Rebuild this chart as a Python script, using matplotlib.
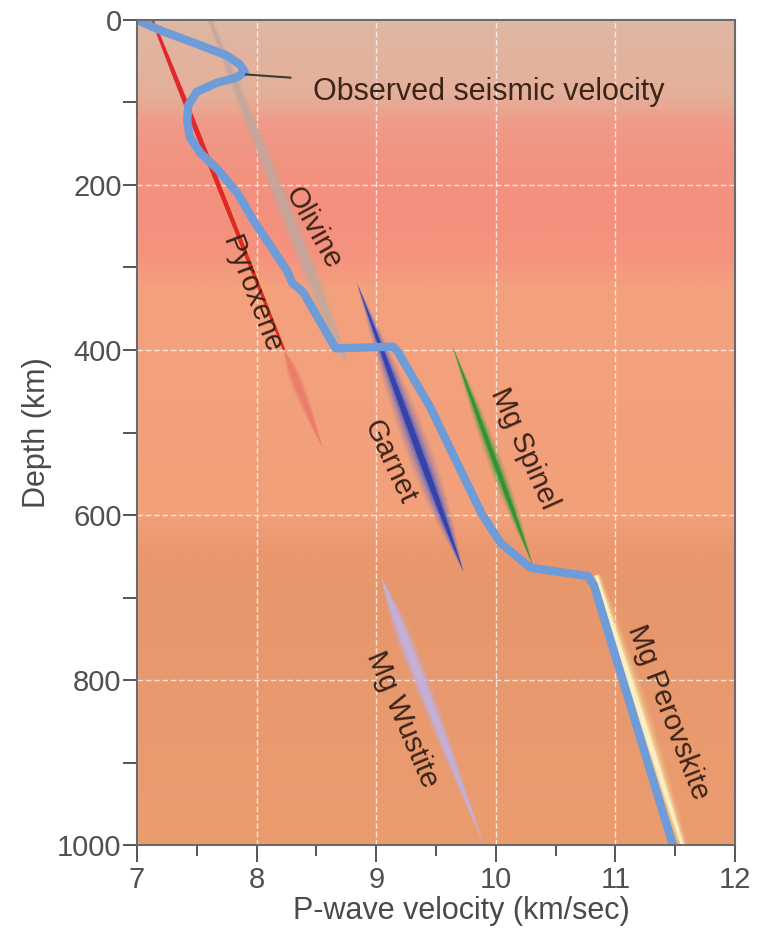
import matplotlib
matplotlib.use("Agg")
import matplotlib.pyplot as plt
import numpy as np
from matplotlib.colors import LinearSegmentedColormap
from matplotlib.patches import Polygon

plt.rcParams['font.family'] = ['Liberation Sans', 'DejaVu Sans']

# observed seismic P-wave velocity profile (km/s, depth km)
obs_velocity = [7.00, 7.22, 7.50, 7.75, 7.86, 7.90, 7.83, 7.67, 7.50, 7.43,
                7.42, 7.44, 7.53, 7.68, 7.84, 7.97, 8.25, 8.30, 8.39, 8.66,
                9.14, 9.18, 9.45, 9.88, 10.04, 10.29, 10.77, 10.82, 11.48]
obs_depth = [0, 14, 29, 43, 54, 63, 70, 76, 87, 103,
             121, 142, 161, 182, 210, 242, 303, 319, 330, 398,
             396, 402, 469, 598, 634, 664, 674, 685, 1000]

# mineral velocity bands: start / end (velocity, depth)
minerals = ["Pyroxene", "Olivine", "Garnet", "Mg Spinel", "Mg Wustite", "Mg Perovskite"]
band_v0 = [7.13, 7.61, 8.84, 9.64, 9.04, 10.84]
band_d0 = [0, 0, 319, 396, 675, 673]
band_v1 = [8.23, 8.74, 9.73, 10.31, 9.90, 11.56]
band_d1 = [400, 412, 669, 661, 1000, 1000]

# faded extension of the pyroxene band
pyx_tail_v = [8.23, 8.55]
pyx_tail_d = [400, 518]

# label positions (velocity, depth) and angle
label_v = [7.96, 8.47, 9.11, 10.24, 9.22, 11.44]
label_d = [333, 252, 536, 519, 848, 839]
label_rot = [-69, -61, -65, -66, -67, -69]

# background colour by depth
bg_depth = [0, 90, 125, 200, 285, 330, 600, 650, 700, 1000]
bg_colors = ['#dfb7a2', '#e4b09a', '#f09a88', '#f4907e', '#f4937e',
             '#f4a27e', '#f2a07a', '#ea976e', '#e6976c', '#eb9d70']

fig = plt.figure(figsize=(7.66, 9.30), dpi=100)
ax = fig.add_axes([137 / 766, 85 / 930, 598 / 766, 825 / 930])
ax.set_xlim(7, 12)
ax.set_ylim(1000, 0)

stops = [d / 1000 for d in bg_depth]
cmap = LinearSegmentedColormap.from_list('mantle', list(zip(stops, bg_colors)))
grad = np.linspace(0, 1, 500).reshape(-1, 1)
ax.imshow(grad, cmap=cmap, extent=[7, 12, 1000, 0], aspect='auto', zorder=0)


def spindle(v0, d0, v1, d1, width, color, peak=0.5, alpha=1.0, zorder=3, tip=0.0):
    p0 = ax.transData.transform((v0, d0))
    p1 = ax.transData.transform((v1, d1))
    vec = p1 - p0
    n = np.array([-vec[1], vec[0]]) / np.hypot(*vec)
    t = np.linspace(0, 1, 80)
    shape = np.where(t < peak, np.sin(np.pi / 2 * t / peak),
                     np.sin(np.pi / 2 * (1 - t) / (1 - peak)))
    shape = tip + (1 - tip) * shape
    half = width / 2 * shape
    centre = p0 + np.outer(t, vec)
    pts = np.vstack([centre + np.outer(half, n), (centre - np.outer(half, n))[::-1]])
    pts = ax.transData.inverted().transform(pts)
    ax.add_patch(Polygon(pts, closed=True, facecolor=color, edgecolor='none',
                         alpha=alpha, zorder=zorder))


def soft_band(i, width, color, core=None, peak=0.5, tip=0.0, gain=1.0):
    args = (band_v0[i], band_d0[i], band_v1[i], band_d1[i])
    for f, a in [(1.8, 0.12), (1.4, 0.2), (1.0, 0.35), (0.7, 0.6)]:
        spindle(*args, width * f, color, peak=peak, alpha=min(1, a * gain), tip=tip)
    if core:
        spindle(*args, width * 0.45, core, peak=peak, alpha=0.85, tip=tip)


# olivine (faded grey-beige)
soft_band(1, 10, '#c2a89e', peak=0.7, tip=0.3, gain=1.3)
# pyroxene faded tail, then bright red line
spindle(pyx_tail_v[0], pyx_tail_d[0], pyx_tail_v[1], pyx_tail_d[1], 12, '#ea7468',
        peak=0.3, alpha=0.35)
spindle(pyx_tail_v[0], pyx_tail_d[0], pyx_tail_v[1], pyx_tail_d[1], 7, '#e86a62',
        peak=0.3, alpha=0.5)
spindle(band_v0[0], band_d0[0], band_v1[0], band_d1[0], 7, '#f0c040',
        peak=0.75, alpha=0.35, tip=0.4)
spindle(band_v0[0], band_d0[0], band_v1[0], band_d1[0], 5, '#e2202a',
        peak=0.3, alpha=0.95, tip=0.5)
# garnet
soft_band(2, 14, '#5a62c4', core='#2a3ca8', peak=0.6)
# spinel
soft_band(3, 8, '#3a9e3a', core='#2e8e30', peak=0.55)
# wustite
soft_band(4, 10, '#c4b0dc', peak=0.25, gain=1.5)
# perovskite
soft_band(5, 11, '#f6e2a0', core='#fbf4d0', peak=0.5, tip=0.5)

ax.plot(obs_velocity, obs_depth, color='#6e9cd8', linewidth=6,
        solid_joinstyle='round', solid_capstyle='round', zorder=5)

ax.annotate('Observed seismic velocity', xy=(7.91, 66), xytext=(8.47, 87),
            fontsize=22, color='#3c2418', va='center', ha='left',
            arrowprops=dict(arrowstyle='-', color='#3a3a3a', lw=1.5,
                            shrinkA=14, shrinkB=0), zorder=6)

for name, lv, ld, rot in zip(minerals, label_v, label_d, label_rot):
    ax.text(lv, ld, name, fontsize=21, color='#3c2418', rotation=rot,
            rotation_mode='anchor', ha='center', va='center', zorder=6)

ax.set_xticks([7, 8, 9, 10, 11, 12])
ax.set_xticks([7.5, 8.5, 9.5, 10.5, 11.5], minor=True)
ax.set_yticks([0, 200, 400, 600, 800, 1000])
ax.set_yticks([100, 300, 500, 700, 900], minor=True)
ax.tick_params(axis='x', which='major', length=12, width=1.4, color='#555555',
               labelsize=21, labelcolor='#505050', pad=3)
ax.tick_params(axis='x', which='minor', length=8, width=1.4, color='#555555')
ax.tick_params(axis='y', which='both', length=10, width=1.4, color='#555555',
               labelsize=21, labelcolor='#505050', pad=1)
ax.grid(True, which='major', color='white', linestyle=(0, (4, 2)), linewidth=1.0,
        alpha=0.75, zorder=1)
for s in ax.spines.values():
    s.set_color('#6a6a6a')
    s.set_linewidth(1.5)
    s.set_zorder(7)

ax.set_xlabel('P-wave velocity (km/sec)', fontsize=22, color='#4a4a4a')
ax.xaxis.set_label_coords(0.542, -0.062)
ax.set_ylabel('Depth (km)', fontsize=22, color='#4a4a4a', labelpad=4)

fig.patch.set_facecolor('white')
fig.savefig('out.png', dpi=100)
